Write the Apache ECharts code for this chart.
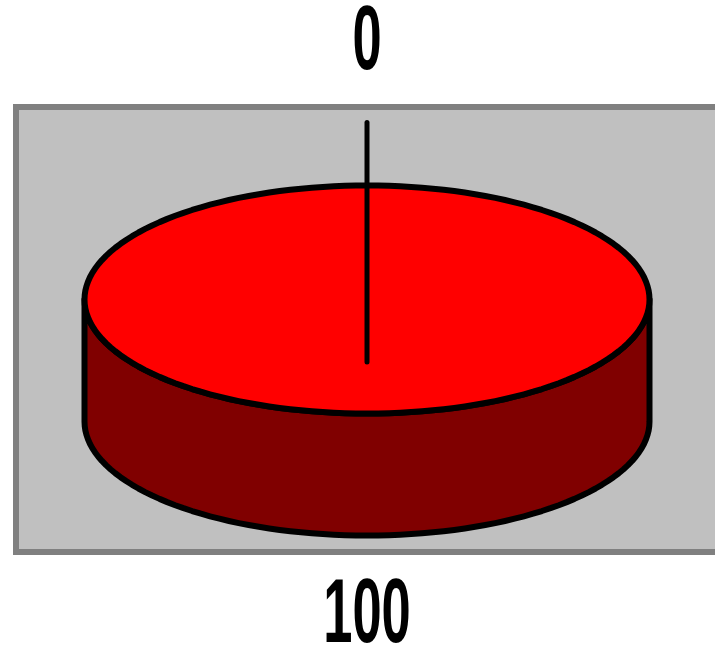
<!DOCTYPE html>
<html>
<head>
<meta charset="utf-8">
<script src="https://cdn.jsdelivr.net/npm/echarts@6/dist/echarts.min.js"></script>
<style>
  html, body { margin: 0; padding: 0; background: #fff; }
  #chart { width: 715px; height: 648px; }
</style>
</head>
<body>
<div id="chart"></div>
<script>
// data
var sliceNames = ['Slice 1', 'Slice 2']
var sliceValues = [0, 100]
var sliceColors = ['#FF0000', '#FF0000']
var sideColors = ['#800000', '#800000']

var total = sliceValues.reduce(function (a, b) { return a + b }, 0)

// pie geometry (tilted ellipse + depth)
var cx = 367, cy = 299.5, rx = 282.5, ry = 114, depth = 122

function pt(a, dy) {
    return [cx + rx * Math.sin(a), cy - ry * Math.cos(a) + (dy || 0)]
}

function arcPts(a0, a1, dy) {
    var pts = []
    var n = Math.max(2, Math.ceil(Math.abs(a1 - a0) / (Math.PI * 2) * 160))
    for (var i = 0; i <= n; i++) {
        pts.push(pt(a0 + (a1 - a0) * i / n, dy))
    }
    return pts
}

var outline = { stroke: '#000', lineWidth: 6, lineJoin: 'round' }

function renderItem(params, api) {
    var idx = params.dataIndex
    var val = api.value(0)
    var before = 0
    for (var i = 0; i < idx; i++) before += sliceValues[i]
    var a0 = before / total * Math.PI * 2
    var a1 = (before + val) / total * Math.PI * 2
    var mid = (a0 + a1) / 2
    var children = []

    if (val > 0) {
        // visible side wall: part of the slice between 90 and 270 degrees
        var s0 = Math.max(a0, Math.PI / 2), s1 = Math.min(a1, Math.PI * 3 / 2)
        if (s1 > s0) {
            var side = arcPts(s0, s1, 0).concat(arcPts(s1, s0, depth))
            children.push({
                type: 'polygon', shape: { points: side },
                style: Object.assign({ fill: sideColors[idx] }, outline)
            })
        }
        var topPts = arcPts(a0, a1, 0)
        if (a1 - a0 < Math.PI * 2 - 1e-6) topPts.push([cx, cy])
        children.push({
            type: 'polygon', shape: { points: topPts },
            style: Object.assign({ fill: sliceColors[idx] }, outline)
        })
    }

    // data label
    var lx, ly
    var c = Math.cos(mid)
    if (c >= 0) {
        lx = cx + (rx + 145) * Math.sin(mid)
        ly = cy - (ry + 142) * c
    } else {
        lx = cx + (rx + 81) * Math.sin(mid)
        ly = cy - (ry + depth + 81) * c
    }
    if (val === 0) {
        // leader line for the empty slice
        children.push({
            type: 'line',
            shape: { x1: cx, y1: cy + 62.5, x2: lx, y2: ly + 79 },
            style: { stroke: '#000', lineWidth: 5, lineCap: 'round' },
            z2: 10
        })
    }
    children.push({
        type: 'text',
        x: lx, y: ly,
        scaleX: 0.86, scaleY: 1.49,
        style: {
            text: String(val),
            x: 0, y: 0,
            align: 'center',
            verticalAlign: 'middle',
            font: 'bold 61px "Liberation Sans", Arial, sans-serif',
            fill: '#000'
        },
        z2: 10
    })

    return { type: 'group', children: children }
}

var chart = echarts.init(document.getElementById('chart'))
var option = {
    animation: false,
    backgroundColor: '#fff',
    graphic: [
        {
            type: 'rect',
            z: 0,
            shape: { x: 16, y: 107, width: 720, height: 445 },
            style: { fill: '#C0C0C0', stroke: '#808080', lineWidth: 6 }
        }
    ],
    series: [
        {
            type: 'custom',
            coordinateSystem: 'none',
            z: 5,
            renderItem: renderItem,
            data: sliceValues.map(function (v, i) {
                return { name: sliceNames[i], value: [v] }
            })
        }
    ]
}
chart.setOption(option)
</script>
</body>
</html>
